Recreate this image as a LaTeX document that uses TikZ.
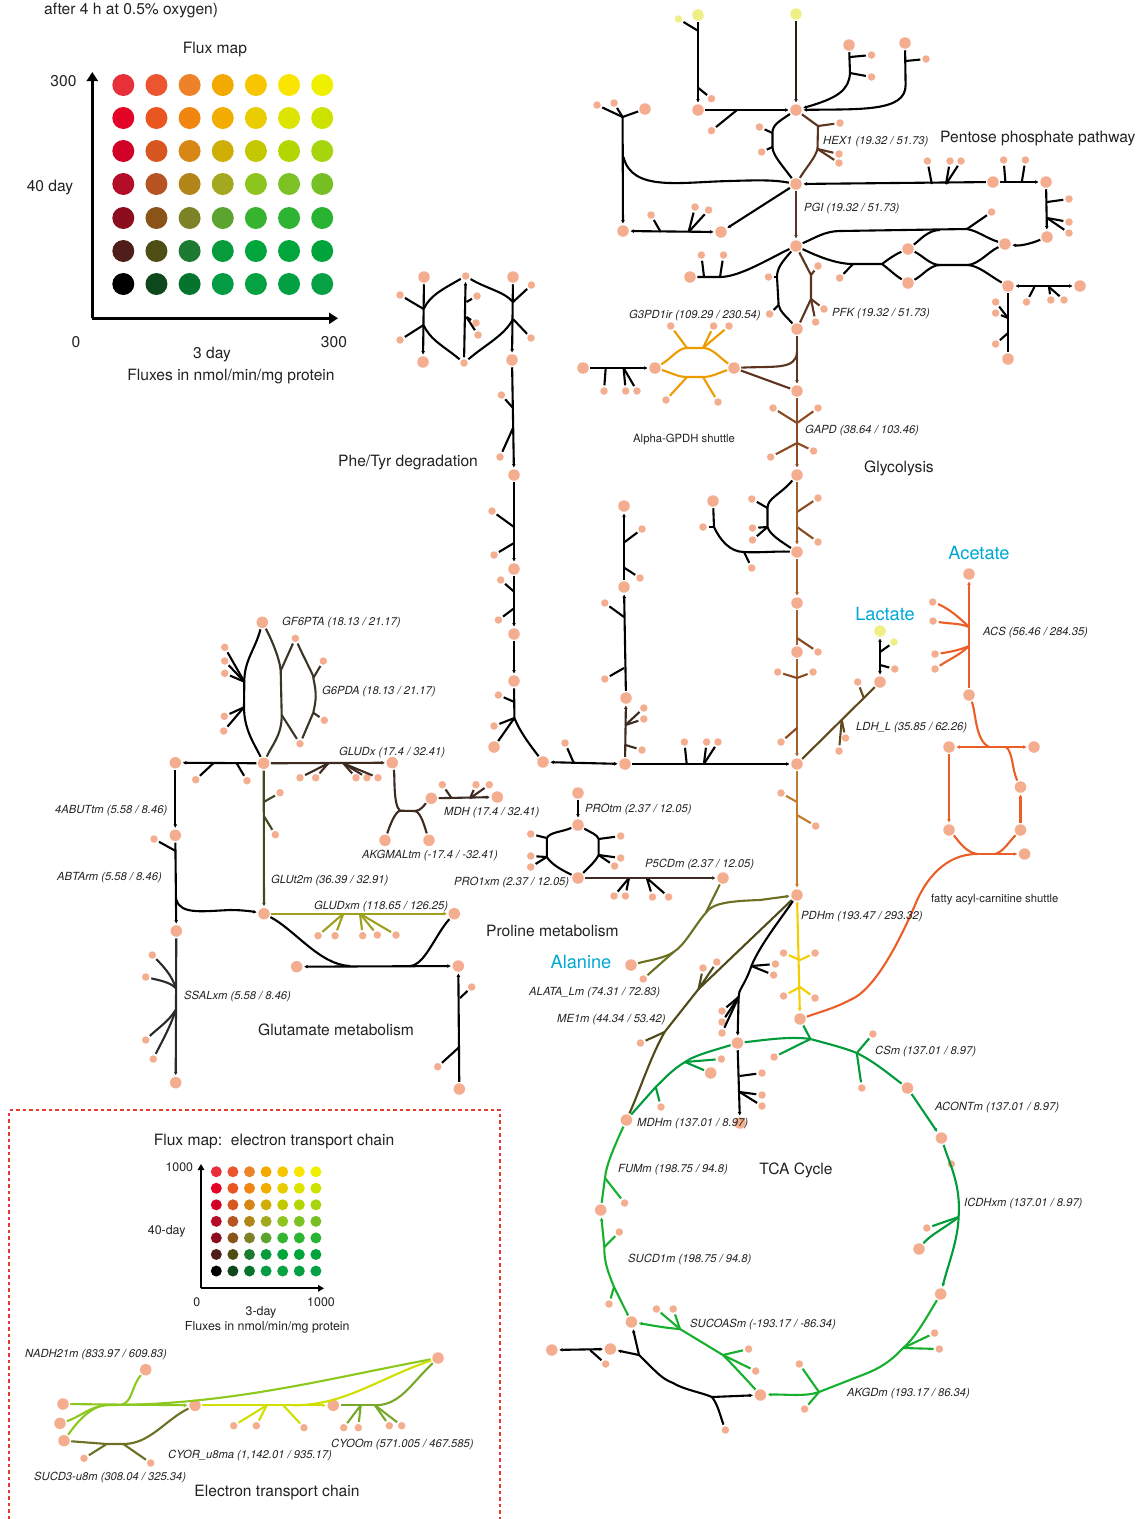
\documentclass[tikz,border=0pt]{standalone}
\usepackage{fontspec}
\setmainfont{TeX Gyre Heros}
\usetikzlibrary{arrows.meta}
\definecolor{clHex}{HTML}{5C3420}
\definecolor{clDk}{HTML}{2B1D14}
\definecolor{clGly}{HTML}{8B4A20}
\definecolor{clLow}{HTML}{A0602A}
\definecolor{clCop}{HTML}{C07C28}
\definecolor{clOr}{HTML}{EE9B00}
\definecolor{clAcs}{HTML}{EB5E28}
\definecolor{clYel}{HTML}{F5CD00}
\definecolor{clGu}{HTML}{3F4A20}
\definecolor{clGf}{HTML}{3A3525}
\definecolor{clGlud}{HTML}{A0A020}
\definecolor{clPf}{HTML}{6B7023}
\definecolor{clDo}{HTML}{4F4A1A}
\definecolor{clGr}{HTML}{009B3A}
\definecolor{clGb}{HTML}{17AF2E}
\definecolor{clAk}{HTML}{3D2B22}
\definecolor{clLdh}{HTML}{5F4A1C}
\definecolor{clSs}{HTML}{2A2A2A}
\definecolor{clNa}{HTML}{8CC81E}
\definecolor{clCr}{HTML}{CFE000}
\definecolor{clCo}{HTML}{78A82A}
\definecolor{clDash}{HTML}{E8392F}
\definecolor{clCyan}{HTML}{00A9D4}
\definecolor{clNode}{HTML}{F4AE8F}
\definecolor{clYn}{HTML}{EEF085}
\definecolor{clTxt}{HTML}{222222}
\tikzset{
 ln/.style={line width=2.1pt,line join=round,>={Latex[length=3.6pt,width=3.8pt]}},
 thn/.style={ln,line width=1.7pt},
 met/.style={circle,fill=clNode,inner sep=0pt,minimum size=11.5pt,outer sep=1.5pt},
 sm/.style={circle,fill=clNode,inner sep=0pt,minimum size=7.5pt,outer sep=2pt},
 ybig/.style={met,fill=clYn},
 ysm/.style={sm,fill=clYn},
 lab/.style={anchor=west,inner sep=0pt,yshift=-1.8pt,text=clTxt,font=\fontsize{11.2}{12}\selectfont\itshape},
 hd/.style={inner sep=0pt,yshift=-1.8pt,text=clTxt,font=\fontsize{15.6}{17}\selectfont},
 sp/.style={inner sep=0pt,text=clCyan,font=\fontsize{18.2}{19}\selectfont},
 sh/.style={anchor=west,inner sep=0pt,yshift=-1.8pt,text=clTxt,font=\fontsize{11.3}{12}\selectfont},
 lg/.style={inner sep=0pt,text=clTxt,font=\fontsize{12.4}{13}\selectfont},
 ax/.style={line width=2.4pt,-{Triangle[length=9pt,width=11pt]}},
 axs/.style={line width=1.7pt,-{Triangle[length=6pt,width=6.5pt]}},
}
\newcommand{\brsm}[2]{\foreach \xx/\yy/\jj [count=\ii] in {#2} {\node[sm] (s\jj-\ii) at (\xx,\yy) {}; \draw[ln,#1] (\jj) -- (s\jj-\ii);}}
\begin{document}
\begin{tikzpicture}[x=1pt,y=-1pt]
\useasboundingbox (0,0) rectangle (1139,1519);
\fill[white] (0,0) rectangle (1139,1519);
% legends
\foreach \yy/\cols [count=\rr] in {
 85/{E7303A,EB5631,EE8228,F2A900,F7C600,F9E500,EEF000},
 118/{E40427,EA561F,F0860F,F2AD00,EACD00,DDE400,CEE200},
 151/{D10026,D8561F,D88615,CFAF06,C3C800,B3D500,A7D50D},
 184/{B30D27,B65423,B28518,A3A81E,8CC51E,7DC224,76C025},
 218/{8B0D1E,8A5418,7C8225,5BA42F,37B42F,2FB333,2AB333},
 251/{4F1E1B,4D4D14,1D7A30,079B3C,00A63C,00A63B,00A43B},
 284/{000000,0E481C,05742F,039C42,05A244,03A043,06A144}} {
 \foreach \cc [count=\kk] in \cols {
  \definecolor{tmpc}{HTML}{\cc}
  \node[circle,fill=tmpc,inner sep=0pt,minimum size=22pt] (la-\rr-\kk) at ({123.3+33.15*(\kk-1)},\yy) {};
  \node[circle,fill=tmpc,inner sep=0pt,minimum size=11pt] (lb-\rr-\kk) at ({216.3+16.6*(\kk-1)},{1171.7+16.55*(\rr-1)}) {};
 }
}
\coordinate (oa) at (92.3,318.3); \coordinate (oay) at (92.3,72); \coordinate (oax) at (338,318.3);
\draw[ax] (oa) -- (oay); \draw[ax] (oa) -- (oax);
\coordinate (ob) at (201,1288.3); \coordinate (oby) at (201,1164); \coordinate (obx) at (324,1288.3);
\draw[axs] (ob) -- (oby); \draw[axs] (ob) -- (obx);
\coordinate (da) at (9,1519); \coordinate (db) at (9,1110); \coordinate (dc) at (500,1110); \coordinate (dd) at (500,1519);
\draw[clDash,line width=1.5pt,dash pattern=on 3.5pt off 3pt] (da) -- (db) -- (dc) -- (dd);
% big nodes
\foreach \n/\x/\y in {a/796/110,n1/698/110,b1/849/45,b2/905/43,b3/645/109,p/796/184,n2/623/231,n3/721/232,r1/993/182,r2/1046/182,r3/1047/237,r4/1005/244,c/796/246,n4/690/277,m1/908/249,m2/908/283,r5/1008/286,r6/1080/286,r7/1008/359,d/797/329,
 t1/424/277,t2/513/277,t3/423/362,t4/512/360,u1/514/475,u2/514/569,u3/514/634,u4/514/681,u5/494/747,u6/543/762,
 g1/583/368,g2/655/368,g3/734/368,e/797/391,f/797/475,g/797/552,bg/713/501,v1/797/603,v2/797/652,h/797/764,
 pv1/624/506,pv2/624/587,pv3/626/698,pv4/625/764,lac/880/682,ac1/969/574,ac2/969/695,ac3/949/747,ac4/1034/747,ac5/1020.5/787,ac6/949/830,ac7/1020.5/830,ac8/1024.6/854,
 pdh/797/895,ace/800/1019,ala/631/965,q1/578/793,q2/578/825,q3/578/878,q4/723/878,
 t0/737.5/1043,mdh/626.4/1120,n5/710.7/1073,n6/740/1123,i1/907.5/1088,i2/941.4/1138,i3/919/1249,i4/940.7/1294,i5/760.4/1395,i6/631.4/1322,i7/600.7/1210,i8/610.4/1349,i9/551.8/1350,
 k0/262.3/622.3,k1/263.7/763.3,k2/175.3/762.7,k3/175.3/835.3,k4/392.3/762.7,k5/431.3/798.3,k6/385/840.3,k7/429/840.3,k8/497.3/797,k9/264/913.7,k10/454.3/913.7,k11/176.3/931,k12/175.7/1082.7,k13/296.7/966.7,k14/458.3/966,k15/459.3/1089,
 e1/63/1404,e2/60/1423.3,e3/64/1440.7,e4/145.7/1369.7,e5/195/1405.3,e6/333.3/1405.3,e7/438/1358}
 {\node[met] (\n) at (\x,\y) {};}
\node[ybig] (y1) at (698,15) {};
\node[ybig] (y2) at (796,14) {};
\node[ybig] (ly) at (880,631) {};
\node[ysm] (y1s) at (678.5,19) {};
\node[ysm] (lys) at (894,642) {};
\node[sm] (st) at (465.7,276) {};
\node[sm] (sb) at (464,363) {};
\node[sm] (sa) at (951.4,1164) {};
\node[sm] (ke) at (295.3,638.3) {};
\node[sm] (kf) at (300,743.7) {};
% junctions
\foreach \n/\x/\y in {ja1/698.4/88,ja2/698.4/31,ja3/737/110,ja4/850/57,ja5/850/73,ja6/905.6/61,ja7/622.6/117,ja8/623.5/157,ja9/905.6/85,
 jb1/660.7/232,jb2/688.6/232,jb3/931.8/184,jb4/946/184,jb5/1005.4/182,jb6/1021.8/182,jb7/1047/202,jb8/1047/218,
 jl1/772.5/133,jl2/772.5/147,jr1/818/126,jr2/817.5/149,jc1/840/231,jc2/967/229,jc3/940/230,jc4/853/264,jc5/882/264,jc6/940/265,jc7/967/265,
 jd1/1034.4/287,jd2/1049/287,jd3/1008/318,jd4/1008/333,jd5/704/277,jd6/720/277,jd7/777/277,jd8/778.6/305,jd9/811/275,jd10/811/299,jd11/797/352,
 pa1/423.6/309,pa2/423.6/325,pb1/513/302,pb2/513/319,pm1/466.4/302,pm2/466.4/317,pc1/513/408,pc2/513/428,pc3/514/527,pc4/514/543,pc5/514.4/592,pc6/514.4/608,pc7/514.4/702,pc8/514.4/718,
 oa1/605.7/368,oa2/623.6/368,ob1/687/348,ob2/703/348,ob3/687/377,ob4/703/377,
 gl1/797/423,gl2/797/443,gl3/797/512,gl4/797/527,gl5/767.5/508,gl6/767.5/527,gl7/714/527,gl8/744/552,gl9/797/638,gl10/797/678,gl11/797/728,
 pr1/624.7/542,pr2/624.7/568,pr3/624/617,pr4/624/668,pr5/625.4/725,pr6/625.4/745,pr7/573.8/763,pr8/686.7/764,pr9/703.9/764,
 ld1/863.8/698,ld2/841.7/720,ld3/880/652,ld4/880/665,ac9/969/627,ac10/969/646,ac11/989/747,ac12/1006/747,ac13/977/854,ac14/995/854,
 cp1/797/802,cp2/797/815,yl1/800/960,yl2/800/987,qa1/546.8/838,qa2/546.8/857,qa3/598.6/839,qa4/598.6/855,qa5/629/878,qa6/646.8/878,
 ol1/705.7/913,ol2/673.6/952,do1/698.6/989,do2/664.6/1032,bk1/751.4/966,bk2/738.6/997,bk3/739.6/1076,bk4/739.6/1092,
 jt1/810.4/1039,jt2/856.8/1053,jt3/685/1062,jt4/655.7/1087,ji/958.6/1217,jg1/903/1348,jg2/819/1392,jh1/722.9/1355,jh2/680/1329,jp1/614/1287,jp2/604.3/1247,jq/605/1178,
 jk1/639/1355,jk2/712/1397,jk3/590/1350,
 ka1/244.3/681.7,ka2/244/707.3,kb1/313.3/678,kb2/313.3/712.7,kb3/280.7/670.7,kb4/281.7/715,kc1/213.3/763.3,kc2/236.7/763.3,kc3/328.3/763.3,kc4/343.3/763.3,
 kd1/264.3/801.7,kd2/264.3/816.7,kg1/400/810.7,kg2/415/811,kh1/451.7/798.3,kh2/470/798.3,ki1/175.7/851,ki2/176.7/900,ki3/175.7/988,ki4/175.7/1010,
 kj1/343.3/913.7,kj2/360/913.7,kl1/350/966,kl2/410/966,km1/460/998,km2/459.3/1047,
 ea1/108.3/1405,ea2/121.7/1404.5,eb1/106.7/1444,eb2/123.3/1444,ec1/266.7/1405.3,ec2/283.3/1405.3,ec3/293.3/1405.3,ed1/360.7/1405.3,ed2/375/1405.3}
 {\coordinate (\n) at (\x,\y);}
% ---- top black
\draw[ln,->] (y1) -- (n1);
\draw[ln] (ja2) -- (y1s);
\draw[ln,->] (n1) -- (a);
\draw[ln,clDk,->] (y2) -- (a);
\brsm{black}{711.5/98.7/ja1,711.5/130.7/ja3,871.5/55/ja4,871.5/77/ja5,926/59/ja6,597/105/ja7,614/103/ja7}
\draw[ln,->] (b1) -- (ja5) .. controls (849,90) and (838,98) .. (a);
\draw[ln,->] (b2) -- (ja9) .. controls (906,112) and (860,109) .. (a);
\draw[ln] (b3) -- (ja7);
\draw[ln,->] (ja7) -- (n2);
\draw[ln] (ja8) .. controls (632,192) and (680,182) .. (730,181) .. controls (760,180) and (775,180) .. (p);
\draw[ln,<->] (n2) -- (n3);
\brsm{black}{651/215/jb1,695/207/jb2,708.6/210/jb2,927.4/161/jb3,950/161/jb4,961/161/jb4,1003.6/160/jb5,1025.4/160/jb6,1069/199/jb7,1069/222/jb8,1069/233/jb8}
\draw[ln,->] (p) -- (n3);
\draw[ln] (a) .. controls (778,122) and (772.5,125) .. (jl1) -- (jl2) .. controls (772.5,155) and (782,165) .. (p);
\draw[ln,clHex] (a) -- (jr1) -- (jr2) .. controls (815,158) and (808,165) .. (p);
\brsm{black}{759.4/127/jl1,761.6/152/jl2}
\brsm{clHex}{840/123/jr1,839/154/jr2,839/163/jr2}
\draw[ln,<-] (p) -- (r1);
\draw[ln,->] (r1) -- (r2);
\draw[ln,->] (r2) -- (r3);
\draw[ln,->] (r3) .. controls (1030,244) and (1020,246) .. (r4);
\draw[thn,clHex,->] (p) -- (c);
\draw[ln] (c) .. controls (815,238) and (825,231) .. (jc1) -- (jc2) .. controls (978,231) and (986,238) .. (r4);
\draw[ln] (jc3) .. controls (928,230) and (920,240) .. (m1);
\draw[ln] (c) .. controls (815,255) and (835,264) .. (jc4) -- (jc5) .. controls (890,258) and (896,254) .. (m1);
\draw[ln] (jc5) .. controls (890,270) and (896,276) .. (m2);
\draw[ln] (m1) .. controls (922,255) and (930,265) .. (jc6) -- (jc7) .. controls (978,265) and (988,252) .. (r4);
\draw[ln] (m2) .. controls (922,276) and (930,265) .. (jc6);
\draw[ln] (jc7) .. controls (978,265) and (990,276) .. (r5);
\brsm{black}{991.6/212/jc2,839.6/278/jc4,1026.5/302/jd1,1050.8/300/jd2,1064/300/jd2,995.6/302/jd3,995.6/313/jd3,995.6/344/jd4,701.4/255/jd5,723.5/255/jd6,768.5/277/jd7,769.6/314/jd8}
\draw[ln,<->] (r5) -- (r6);
\draw[ln] (r5) -- (r7);
\draw[ln] (n4) -- (jd6) .. controls (740,277) and (770,258) .. (c);
\draw[ln] (c) .. controls (782,262) and (777,268) .. (jd7) -- (jd8) .. controls (780,312) and (787,317) .. (d);
\draw[ln,clHex] (c) -- (jd9) -- (jd10) -- (d);
\brsm{clHex}{818/266/jd9,824/309/jd10,815.6/322/jd10}
\draw[thn,clHex,->] (d) -- (e);
\draw[ln,clHex] (g3) .. controls (775,366) and (796,370) .. (jd11);
\draw[ln,clHex] (g3) -- (e);
% Phe/Tyr
\draw[ln,->] (t1) -- (t3);
\draw[ln,->] (t2) -- (t4);
\draw[ln] (pa1) .. controls (430,295) and (445,288) .. (st);
\draw[ln] (st) .. controls (485,288) and (505,292) .. (pb1);
\draw[ln] (pa2) .. controls (430,340) and (445,347) .. (sb);
\draw[ln] (pb2) .. controls (505,335) and (485,345) .. (sb);
\draw[ln,->] (sb) -- (st);
\brsm{black}{400/295/pa1,400/340/pa2,531.4/285/pb1,531/338/pb2,477/296/pm1,476/323/pm2,478/335/pm2,501.4/395/pc1,500/457/pc2,492/511/pc3,494/555/pc4,500.7/580/pc5,498.4/620/pc6,498.4/695/pc7,494/726/pc8}
\draw[ln,->] (t4) -- (u1);
\draw[ln,->] (u1) -- (u2);
\draw[ln,->] (u2) -- (u3);
\draw[ln,->] (u3) -- (u4);
\draw[ln] (u4) -- (pc8) .. controls (520,732) and (530,745) .. (u6);
\draw[ln] (pc8) -- (u5);
% G3PD
\draw[ln,->] (g1) -- (g2);
\brsm{black}{604/391/oa1,625.7/391/oa2,637/391/oa2}
\draw[ln,clOr] (g2) .. controls (672,358) and (678,348) .. (ob1) -- (ob2) .. controls (712,348) and (718,356) .. (g3);
\draw[ln,clOr] (g2) .. controls (672,373) and (678,377) .. (ob3) -- (ob4) .. controls (712,377) and (718,373) .. (g3);
\brsm{clOr}{670.7/326/ob1,713.6/326/ob2,729/326/ob2,666/400/ob3,718/402/ob4}
% glycolysis
\draw[thn,clGly,->] (e) -- (f);
\brsm{clGly}{773/408/gl1,818/408/gl1,770.7/457/gl2,813.6/451/gl2,818/498/gl3,818/542/gl4}
\draw[thn,clLow,->] (f) -- (g);
\draw[ln] (f) .. controls (780,495) and (767.5,498) .. (gl5) -- (gl6) .. controls (770,535) and (782,542) .. (g);
\brsm{black}{751.8/499/gl5,752.5/528/gl6,752.5/540/gl6,703/527/gl7,751.8/568/gl8}
\draw[ln] (bg) -- (gl7) .. controls (720,540) and (730,552) .. (gl8) .. controls (760,553) and (775,551) .. (g);
\draw[thn,clLow,->] (g) -- (v1);
\draw[thn,clLow] (v1) -- (v2);
\draw[thn,clLow,->] (v2) -- (h);
\brsm{clGly}{818/652/gl9,777.7/672/gl10,813/672/gl10,781/742/gl11}
% proline vertical
\draw[ln,->] (pv2) -- (pv1);
\draw[ln,->] (pv3) -- (pv2);
\draw[ln,clAk,->] (pv4) -- (pv3);
\brsm{black}{642/529/pr1,640/578/pr2,604.8/603/pr3,604.8/679/pr4}
\brsm{clAk}{643.8/708/pr5,643.8/719/pr5,642/750/pr6}
\draw[ln,<->] (u6) -- (pv4);
\brsm{black}{565/743/pr7,684.4/742/pr8,706.6/742/pr9,718/742/pr9}
\draw[ln,->] (pv4) -- (h);
% lactate
\draw[ln,clLdh] (h) -- (lac);
\brsm{clLdh}{857.7/682/ld1,845.5/738/ld2,839/751/ld2}
\draw[ln,<->] (lac) -- (ly);
\draw[ln] (ld3) -- (lys);
\node[sm] (lsm) at (894.8,669) {};
\draw[ln] (ld4) -- (lsm);
% acetate
\draw[ln,clAcs,->] (ac2) -- (ac1);
\node[sm] (sa1) at (932.7,602) {};
\node[sm] (sa2) at (933,621) {};
\node[sm] (sa3) at (935,654) {};
\node[sm] (sa4) at (935,669) {};
\draw[ln,clAcs] (ac9) .. controls (960,618) and (948,608) .. (sa1);
\draw[ln,clAcs] (ac9) .. controls (960,623) and (950,624) .. (sa2);
\draw[ln,clAcs] (ac10) .. controls (960,650) and (950,652) .. (sa3);
\draw[ln,clAcs] (ac10) .. controls (960,655) and (948,660) .. (sa4);
\draw[ln,clAcs] (ac2) .. controls (976,712) and (975,740) .. (ac11);
\draw[ln,clAcs,<->] (ac3) -- (ac4);
\draw[ln,clAcs] (ac12) .. controls (1013,752) and (1012,770) .. (ac5);
\draw[ln,clAcs,->] (ac3) -- (ac6);
\draw[ln,clAcs,->] (ac7) -- (ac5);
\draw[ln,clAcs] (ac6) .. controls (958,840) and (965,852) .. (ac13);
\draw[ln,clAcs,->] (ac13) -- (ac8);
\draw[ln,clAcs] (ac14) .. controls (1003,852) and (1008,843) .. (ac7);
\draw[ln,clAcs] (ac13) .. controls (945,854) and (925,880) .. (915,905) .. controls (900,940) and (875,990) .. (850,1000) .. controls (835,1008) and (820,1012) .. (ace);
% copper & PDH
\draw[thn,clCop,->] (h) -- (pdh);
\brsm{clCop}{781/793/cp1,815.7/826/cp2}
\draw[ln,clYel,->] (pdh) -- (ace);
\brsm{clYel}{783.6/953/yl1,815/953/yl1,783.6/996/yl2,815/998/yl2}
% proline
\draw[ln,->] (q1) -- (q2);
\draw[ln] (q2) .. controls (562,832) and (550,832) .. (qa1) -- (qa2) .. controls (552,865) and (562,870) .. (q3);
\draw[ln] (q2) .. controls (590,832) and (598,835) .. (qa3) -- (qa4) .. controls (595,862) and (590,866) .. (q3);
\brsm{black}{530.7/834/qa1,530.7/856/qa2,530.7/867/qa2,620.7/836/qa3,620.7/858/qa4,614.6/866/qa4,614/896/qa5,625.4/896/qa5,652.5/897/qa6,668.6/897/qa6}
\draw[ln,clAk,->] (q3) -- (q4);
\draw[ln,clAk] (k4) .. controls (395,775) and (393,805) .. (kg1) -- (kg2) .. controls (421,811) and (425,804) .. (k5);
% olive
\draw[ln,clPf] (q4) -- (ol1);
\draw[ln,clPf,->] (ol1) .. controls (712,903) and (730,901) .. (760,900) -- (pdh);
\draw[ln,clPf] (ol1) .. controls (695,925) and (685,945) .. (ol2);
\draw[ln,clPf] (ol2) .. controls (665,958) and (650,960) .. (ala);
\node[sm] (sal) at (643.2,979) {};
\draw[ln,clPf] (ol2) -- (sal);
\draw[ln,clDo] (pdh) -- (do1) -- (do2) .. controls (650,1058) and (640,1090) .. (mdh);
\brsm{clDo}{703/968/do1,716.8/962/do1,640.4/1043/do2}
\draw[ln] (pdh) .. controls (780,920) and (760,945) .. (bk1) .. controls (745,985) and (738,990) .. (bk2);
\draw[ln,->] (bk2) -- (t0);
\brsm{black}{775.4/964/bk1,773.6/975/bk1,722/1011/bk2,722/1022/bk2,722/1033/bk2}
\draw[ln,->] (t0) -- (n6);
\brsm{black}{762/1073/bk3,762/1095/bk4,762/1106/bk4}
% TCA
\draw[ln,clGr] (t0) .. controls (765,1040) and (790,1036) .. (jt1);
\draw[ln,clGr] (ace) -- (jt1);
\draw[ln,clGr] (jt1) .. controls (825,1043) and (845,1048) .. (jt2) .. controls (875,1062) and (890,1075) .. (i1);
\draw[ln,clGr,->] (i1) -- (i2);
\draw[ln,clGr] (i2) .. controls (950,1165) and (961,1185) .. (ji);
\draw[ln,clGr,->] (ji) .. controls (958,1240) and (948,1265) .. (i4);
\draw[ln,clGr] (ji) .. controls (945,1228) and (930,1235) .. (i3);
\brsm{clGr}{774/1057/jt1,872.9/1034/jt2,861.8/1088/jt2,926.8/1228/ji,721.4/1059/jt3,661/1107/jt4}
\draw[ln,clGr] (t0) .. controls (715,1050) and (695,1055) .. (jt3) .. controls (672,1070) and (665,1078) .. (jt4) -- (mdh);
\draw[ln,clGr] (jt3) -- (n5);
\draw[ln,clGb] (i4) .. controls (925,1320) and (915,1338) .. (jg1) .. controls (890,1362) and (880,1368) .. (865,1374) -- (jg2);
\draw[ln,clGb,->] (jg2) .. controls (805,1397) and (785,1394) .. (i5);
\brsm{clGb}{934.6/1333/jg1,939.3/1349/jg1,799.3/1364/jg2,804.6/1409/jg2,748.6/1349/jh1,755.7/1371/jh1,656.4/1309/jh2,673.2/1309/jh2,609/1304/jp1,619.3/1232/jp2,624.6/1203/jq}
\draw[ln,clGb] (i5) .. controls (745,1378) and (733,1365) .. (jh1) -- (jh2);
\draw[ln,clGb,->] (jh2) .. controls (665,1328) and (650,1325) .. (i6);
\draw[ln,clGb] (i6) -- (jp1) .. controls (608,1272) and (604,1262) .. (jp2);
\draw[ln,clGb,->] (jp2) -- (i7);
\draw[ln,clGb] (mdh) .. controls (615,1145) and (606,1165) .. (jq) -- (i7);
\draw[ln,->] (jk1) -- (i6);
\draw[ln,->] (jk1) -- (i8);
\draw[ln,->] (jk1) .. controls (655,1370) and (660,1378) .. (673,1383) .. controls (685,1390) and (700,1392) .. (jk2) -- (i5);
\node[sm] (skb) at (725.4,1430) {};
\draw[ln] (jk2) .. controls (718,1405) and (720,1415) .. (skb);
\draw[ln,<->] (i8) -- (i9);
\brsm{black}{605.7/1364/jk3}
% glucosamine region
\draw[ln] (k0) .. controls (255,650) and (244.3,660) .. (ka1) -- (ka2) .. controls (244,730) and (255,745) .. (k1);
\draw[ln,clGf] (k0) .. controls (272,640) and (280,660) .. (kb3) -- (kb4) .. controls (282,735) and (272,745) .. (k1);
\draw[ln,clGf] (ke) -- (kb3);
\draw[ln,clGf] (ke) .. controls (305,660) and (316,680) .. (kb1) .. controls (317,695) and (316,700) .. (kb2) -- (kf);
\draw[ln,clGf] (kb4) -- (kf);
\brsm{black}{224.7/647.3/ka1,224.7/661/ka1,224.7/673.3/ka1,224.3/716.3/ka2,223.7/731/ka2,195.7/779.7/kc1,247/780.7/kc2,154/839/ki1}
\node[sm] (ss1) at (152.3,955) {};
\node[sm] (ss2) at (145.7,977) {};
\node[sm] (ss3) at (145.7,1040) {};
\node[sm] (ss4) at (153.3,1059) {};
\draw[ln,clSs] (ki3) .. controls (172,975) and (162,965) .. (ss1);
\draw[ln,clSs] (ki3) .. controls (170,982) and (158,980) .. (ss2);
\draw[ln,clSs] (ki4) .. controls (168,1022) and (158,1028) .. (ss3);
\draw[ln,clSs] (ki4) .. controls (170,1028) and (160,1045) .. (ss4);
\brsm{clGf}{323.3/661/kb1,324.3/720.3/kb2}
\draw[ln,->] (k1) -- (k2);
\draw[ln,clAk,->] (k1) -- (k4);
\brsm{clAk}{300/777.7/kc3,315.7/777.7/kc3,356/777.7/kc4,367/777.7/kc4,378/777.7/kc4}
\draw[ln,clGu,->] (k1) -- (k9);
\brsm{clGu}{280/792.7/kd1,275.3/834.7/kd2}
\draw[ln,->] (k2) -- (k3);
\draw[ln,->] (k3) -- (k11);
\draw[ln,->] (ki2) .. controls (180,915) and (205,911) .. (230,910) .. controls (245,910) and (255,912) .. (k9);
\draw[ln,clSs,->] (k11) -- (k12);
\draw[ln,clAk] (kg1) .. controls (395,812) and (390,825) .. (k6);
\draw[ln,clAk] (kg2) .. controls (421,812) and (425,828) .. (k7);
\draw[ln,clAk,->] (k5) -- (k8);
\brsm{clAk}{442.3/784.7/kh1,476/784.7/kh2,489.3/784.7/kh2}
\draw[ln,clGlud,->] (k9) -- (k10);
\brsm{clGlud}{318/935.7/kj1,335/935.7/kj1,362.7/935.7/kj2,377.3/935/kj2,396/935/kj2}
\draw[ln] (k9) .. controls (295,930) and (320,965) .. (kl1);
\draw[ln,<->] (k13) -- (k14);
\draw[ln] (kl2) .. controls (425,965) and (435,935) .. (k10);
\draw[ln,<-] (k14) -- (k15);
\brsm{black}{471.7/987/km1,437.7/1066.7/km2}
% ETC
\draw[ln,clNa,->] (e1) -- (e5);
\draw[ln,clNa] (e2) .. controls (80,1417) and (92,1405) .. (ea1);
\draw[ln,clNa] (e3) .. controls (75,1425) and (90,1405) .. (ea1);
\draw[ln,clNa] (ea2) .. controls (132,1403) and (132,1385) .. (e4);
\draw[ln,clNa] (ea1) .. controls (230,1405) and (330,1378) .. (e7);
\draw[ln,clPf] (e3) -- (eb1) -- (eb2) .. controls (150,1444) and (165,1420) .. (e5);
\brsm{clPf}{84/1458.3/eb1,150.7/1463/eb2}
\draw[ln,clCr,->] (e5) -- (e6);
\brsm{clCr}{233.7/1425.7/ec1,256.3/1425.7/ec1,304/1427.7/ec2}
\draw[ln,clCr] (ec3) .. controls (345,1405) and (375,1380) .. (e7);
\draw[ln,clCo] (e6) -- (ed2);
\draw[ln,clCo] (ed2) .. controls (400,1405) and (410,1385) .. (e7);
\brsm{clCo}{343.7/1427.7/ed1,358.3/1427.7/ed1,389.3/1425.7/ed2,401.7/1425.7/ed2}
% italic labels
\foreach \x/\y/\t [count=\i] in {
823/140/{HEX1 (19.32 / 51.73)},804/207/{PGI (19.32 / 51.73)},832/312/{PFK (19.32 / 51.73)},629/314/{G3PD1ir (109.29 / 230.54)},805/429/{GAPD (38.64 / 103.46)},
983/631/{ACS (56.46 / 284.35)},856/726/{LDH\_L (35.85 / 62.26)},282/621/{GF6PTA (18.13 / 21.17)},322/690/{G6PDA (18.13 / 21.17)},339/751/{GLUDx (17.4 / 32.41)},
55/809/{4ABUTtm (5.58 / 8.46)},444/811/{MDH (17.4 / 32.41)},585/808/{PROtm (2.37 / 12.05)},362/854/{AKGMALtm (-17.4 / -32.41)},645/863/{P5CDm (2.37 / 12.05)},
57/876/{ABTArm (5.58 / 8.46)},454/881/{PRO1xm (2.37 / 12.05)},271/879/{GLUt2m (36.39 / 32.91)},314/905/{GLUDxm (118.65 / 126.25)},801/915/{PDHm (193.47 / 293.32)},
529/991/{ALATA\_Lm (74.31 / 72.83)},184/995/{SSALxm (5.58 / 8.46)},557/1018/{ME1m (44.34 / 53.42)},875/1050/{CSm (137.01 / 8.97)},935/1106/{ACONTm (137.01 / 8.97)},
637/1122/{MDHm (137.01 / 8.97)},618/1168/{FUMm (198.75 / 94.8)},964/1202/{ICDHxm (137.01 / 8.97)},628/1258/{SUCD1m (198.75 / 94.8)},690/1323/{SUCOASm (-193.17 / -86.34)},
847/1392/{AKGDm (193.17 / 86.34)},25/1353/{NADH21m (833.97 / 609.83)},168/1454/{CYOR\_u8ma (1,142.01 / 935.17)},331/1443/{CYOOm (571.005 / 467.585)},34/1476/{SUCD3-u8m (308.04 / 325.34)}}
 {\node[lab] (lb\i) at (\x,\y) {\t};}
\node[sh] (ls1) at (633,438) {Alpha-GPDH shuttle};
\node[sh] (ls2) at (931,898) {fatty acyl-carnitine shuttle};
% headings
\node[hd,anchor=west] (h1) at (940,137) {Pentose phosphate pathway};
\node[hd] (h2) at (899,467) {Glycolysis};
\node[hd,anchor=west] (h3) at (338,461) {Phe/Tyr degradation};
\node[hd,anchor=west] (h4) at (486,929) {Proline metabolism};
\node[hd] (h5) at (336,1028) {Glutamate metabolism};
\node[hd] (h6) at (796,1169) {TCA Cycle};
\node[hd] (h7) at (277,1491) {Electron transport chain};
\node[sp] (c1) at (979,553) {Acetate};
\node[sp] (c2) at (885,614) {Lactate};
\node[sp] (c3) at (581,962) {Alanine};
% legend text
\node[hd,anchor=west] (t1a) at (44,9) {after 4 h at 0.5\% oxygen)};
\node[hd] (t2a) at (215,48) {Flux map};
\node[hd] (t3a) at (63.5,79) {300};
\node[hd] (t4a) at (50,186) {40 day};
\node[hd] (t5a) at (76,340) {0};
\node[hd] (t6a) at (334,340) {300};
\node[hd] (t7a) at (212,353) {3 day};
\node[hd] (t8a) at (231,375) {Fluxes in nmol/min/mg protein};
\node[hd] (t9a) at (274,1140) {Flux map:\ \ electron transport chain};
\node[lg] (t10) at (179.3,1167) {1000};
\node[lg] (t11) at (166.7,1231) {40-day};
\node[lg] (t12) at (196.7,1302) {0};
\node[lg] (t13) at (321,1302) {1000};
\node[lg] (t14) at (261,1312) {3-day};
\node[lg] (t15) at (267.3,1327) {Fluxes in nmol/min/mg protein};
\end{tikzpicture}
\end{document}
